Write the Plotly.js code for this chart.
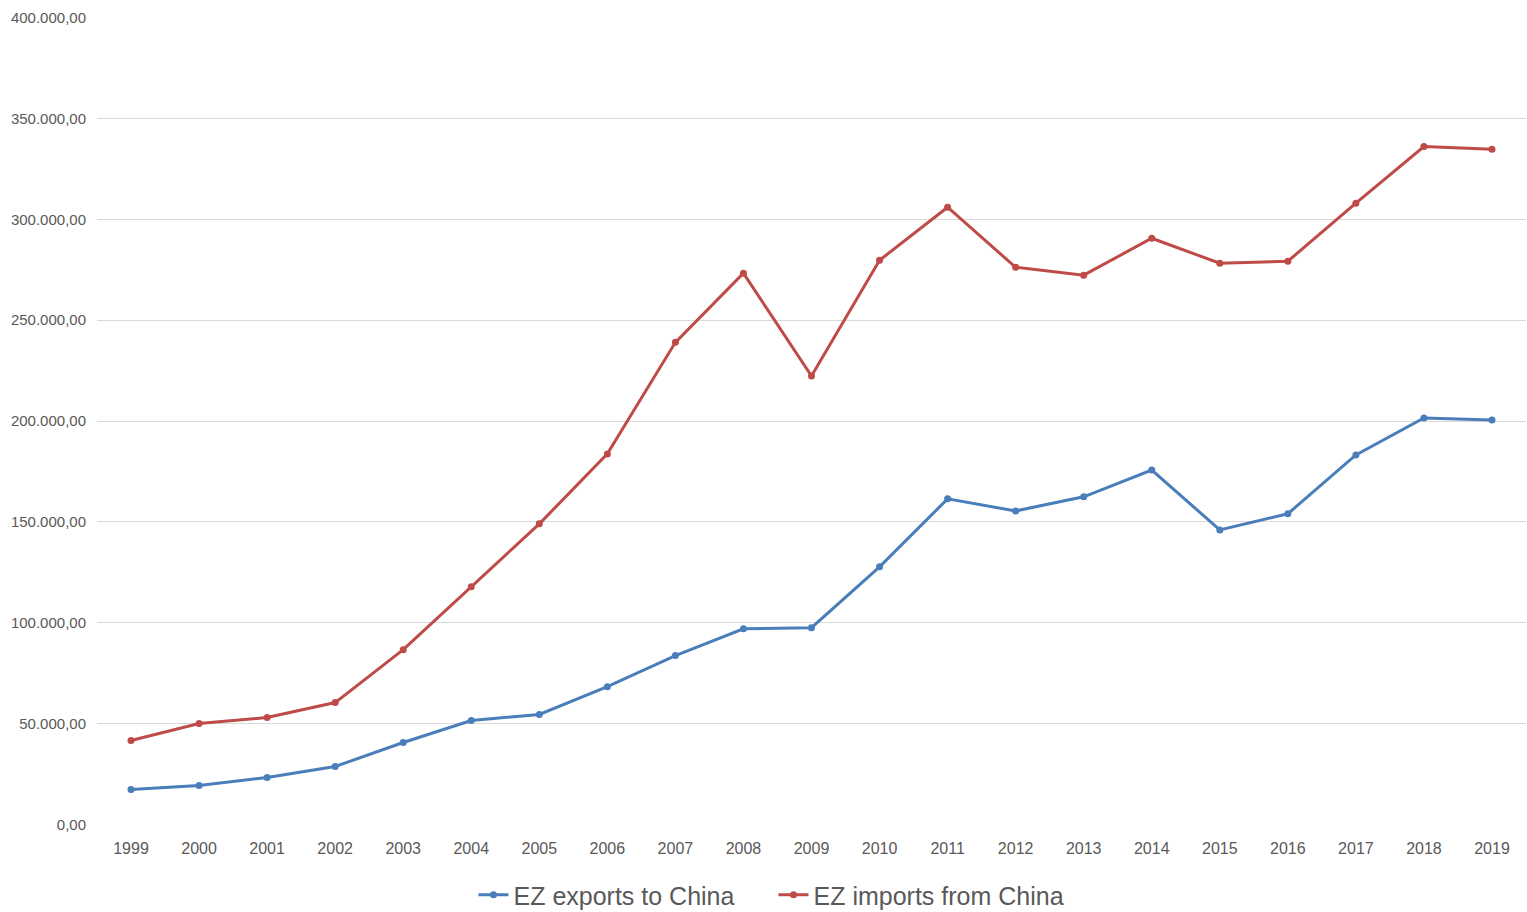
<!DOCTYPE html>
<html>
<head>
<meta charset="utf-8">
<script src="https://cdn.plot.ly/plotly-3.0.1.min.js"></script>
<style>html,body{margin:0;padding:0;background:#fff;}#chart{width:1527px;height:912px;}</style>
</head>
<body>
<div id="chart"></div>
<script>
const years = ["1999","2000","2001","2002","2003","2004","2005","2006","2007","2008","2009","2010","2011","2012","2013","2014","2015","2016","2017","2018","2019"];
const exportsToChina = [17300,19300,23300,28700,40600,51500,54500,68300,83700,97000,97500,127700,161400,155400,162400,175700,146000,154000,183200,201500,200500];
const importsFromChina = [41600,50000,53000,60400,86600,117800,149000,183700,239000,273300,222300,279700,306000,276200,272300,290600,278200,279200,308000,336100,334700];
const seriesNames = ["EZ exports to China","EZ imports from China"];

const fontFam = "'Liberation Sans', Arial, sans-serif";
const traces = [
  {x: years, y: exportsToChina, name: seriesNames[0], type: "scatter", mode: "lines+markers",
   line: {color: "#4a7ebb", width: 3}, marker: {color: "#4a7ebb", size: 7}},
  {x: years, y: importsFromChina, name: seriesNames[1], type: "scatter", mode: "lines+markers",
   line: {color: "#be4b48", width: 3}, marker: {color: "#be4b48", size: 7}}
];
const layout = {
  width: 1527, height: 912,
  margin: {l: 97, r: 1, t: 17, b: 87, autoexpand: false},
  paper_bgcolor: "#fff", plot_bgcolor: "#fff",
  separators: ",.",
  font: {family: fontFam, color: "#595959", size: 15},
  xaxis: {type: "category", range: [-0.5, 20.5], showgrid: false, zeroline: false,
    showline: false, ticks: "", ticklabelstandoff: 12, tickfont: {size: 16, color: "#595959"}},
  yaxis: {range: [-300, 400300], tickvals: [0,50000,100000,150000,200000,250000,300000,350000,400000],
    tickformat: ",.2f", showgrid: true,
    gridcolor: "#d9d9d9", gridwidth: 1, zeroline: false, showline: false, ticks: "",
    tickfont: {size: 15, color: "#595959"}, ticklabelstandoff: 10},
  showlegend: true,
  legend: {orientation: "h", x: 0.4734, xanchor: "center", yref: "container", y: 0.0186, yanchor: "middle",
    font: {size: 25, color: "#595959"}, entrywidth: 255, entrywidthmode: "pixels", tracegroupgap: 0},
  hovermode: false
};
Plotly.newPlot("chart", traces, layout, {displayModeBar: false, staticPlot: true});
</script>
</body>
</html>
